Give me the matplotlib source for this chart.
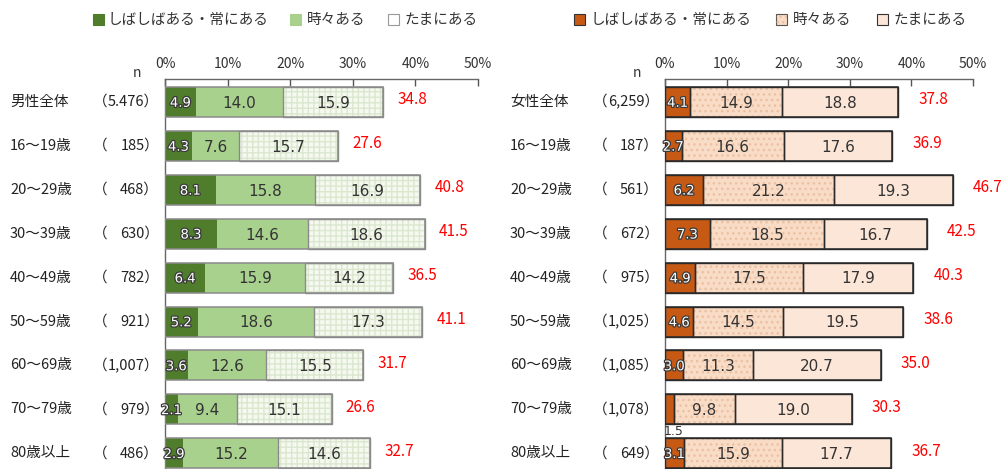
import matplotlib
matplotlib.use("Agg")
import matplotlib.pyplot as plt
from matplotlib.patches import Rectangle
import matplotlib.patheffects as pe

plt.rcParams['font.family'] = ['Noto Sans CJK JP', 'DejaVu Sans']

categories_m = ["男性全体", "16～19歳", "20～29歳", "30～39歳", "40～49歳", "50～59歳", "60～69歳", "70～79歳", "80歳以上"]
n_m = ["5.476", "185", "468", "630", "782", "921", "1,007", "979", "486"]
often_m = [4.9, 4.3, 8.1, 8.3, 6.4, 5.2, 3.6, 2.1, 2.9]
some_m = [14.0, 7.6, 15.8, 14.6, 15.9, 18.6, 12.6, 9.4, 15.2]
rare_m = [15.9, 15.7, 16.9, 18.6, 14.2, 17.3, 15.5, 15.1, 14.6]
total_m = [34.8, 27.6, 40.8, 41.5, 36.5, 41.1, 31.7, 26.6, 32.7]

categories_f = ["女性全体", "16～19歳", "20～29歳", "30～39歳", "40～49歳", "50～59歳", "60～69歳", "70～79歳", "80歳以上"]
n_f = ["6,259", "187", "561", "672", "975", "1,025", "1,085", "1,078", "649"]
often_f = [4.1, 2.7, 6.2, 7.3, 4.9, 4.6, 3.0, 1.5, 3.1]
some_f = [14.9, 16.6, 21.2, 18.5, 17.5, 14.5, 11.3, 9.8, 15.9]
rare_f = [18.8, 17.6, 19.3, 16.7, 17.9, 19.5, 20.7, 19.0, 17.7]
total_f = [37.8, 36.9, 46.7, 42.5, 40.3, 38.6, 35.0, 30.3, 36.7]

legend_labels = ["しばしばある・常にある", "時々ある", "たまにある"]
xticks = [0, 10, 20, 30, 40, 50]

W, H = 1003, 469
fig = plt.figure(figsize=(W / 100, H / 100), dpi=100)
fig.patch.set_facecolor("white")

def fx(px):
    return px / W

def fy(py):
    return 1 - py / H

row0, step = 102, 43.9
top_px, bot_px = 79, 469
ylim_top = (top_px - row0) / step
ylim_bot = (bot_px - row0) / step
bar_h = 30 / step

def make_axes(x0, x1):
    ax = fig.add_axes([fx(x0), 0, fx(x1) - fx(x0), fy(top_px)])
    ax.set_xlim(0, 50)
    ax.set_ylim(ylim_bot, ylim_top)
    ax.xaxis.tick_top()
    ax.set_xticks(xticks)
    ax.set_xticklabels([f"{t}%" for t in xticks], fontsize=10, color="#333333")
    ax.tick_params(axis="x", direction="in", length=5, width=1, color="#555555", pad=6)
    ax.set_yticks([])
    for s in ["right", "bottom"]:
        ax.spines[s].set_visible(False)
    for s in ["top", "left"]:
        ax.spines[s].set_color("#666666")
        ax.spines[s].set_linewidth(1)
    ax.patch.set_alpha(0)
    return ax

def draw_panel(ax, often, some, rare, total, cols, hatch_cols, hatches, edge, seg_edges, tot_off, small_below=None):
    ys = list(range(len(often)))
    left2 = often
    left3 = [a + b for a, b in zip(often, some)]
    segs = [(often, [0] * len(often)), (some, left2), (rare, left3)]
    for k, (w, l) in enumerate(segs):
        ax.barh(ys, w, left=l, height=bar_h, color=cols[k], linewidth=0, zorder=2)
        if hatches[k]:
            ax.barh(ys, w, left=l, height=bar_h, color="none", edgecolor=hatch_cols[k],
                    hatch=hatches[k], linewidth=0, zorder=3)
        if seg_edges[k]:
            ax.barh(ys, w, left=l, height=bar_h, fill=False, edgecolor=edge, linewidth=1, zorder=4)
    tot = [a + b + c for a, b, c in zip(often, some, rare)]
    ax.barh(ys, tot, left=0, height=bar_h, fill=False, edgecolor=edge, linewidth=1.1, zorder=5)
    for i in ys:
        if small_below is not None and i == small_below:
            ax.text(often[i] / 2 + 0.7, i + 0.5, f"{often[i]:.1f}", ha="center", va="center",
                    fontsize=9, color="#333333", family="DejaVu Sans", zorder=8, clip_on=False)
        else:
            ax.text(often[i] / 2, i + 0.03, f"{often[i]:.1f}", ha="center", va="center",
                    fontsize=9.5, color="white", family="DejaVu Sans", zorder=6,
                    path_effects=[pe.withStroke(linewidth=1.8, foreground="#3a3a3a")])
        ax.text(left2[i] + some[i] / 2, i + 0.03, f"{some[i]:.1f}", ha="center", va="center",
                fontsize=11, color="#333333", family="DejaVu Sans", zorder=6)
        ax.text(left3[i] + rare[i] / 2, i + 0.03, f"{rare[i]:.1f}", ha="center", va="center",
                fontsize=11, color="#333333", family="DejaVu Sans", zorder=6)
        ax.text(tot[i] + tot_off, i - 0.05, f"{total[i]:.1f}", ha="left", va="center",
                fontsize=11, color="#ff0000", zorder=6, clip_on=False)

# Left panel (men)
axL = make_axes(165, 478)
draw_panel(axL, often_m, some_m, rare_m, total_m,
           cols=["#4f7d2c", "#a9d18e", "#f5f9f0"],
           hatch_cols=[None, None, "#dbe7cf"],
           hatches=[None, None, "+++"],
           edge="#8a8a8a", seg_edges=[False, False, True], tot_off=2.3)

# Right panel (women)
axR = make_axes(665, 973)
draw_panel(axR, often_f, some_f, rare_f, total_f,
           cols=["#c65a14", "#f9dcc6", "#fce6d8"],
           hatch_cols=[None, "#ebc0a3", None],
           hatches=[None, "...", None],
           edge="#2a2a2a", seg_edges=[True, True, True], tot_off=3.3, small_below=7)

# Category and n labels
for i in range(len(categories_m)):
    y = fy(row0 + step * i)
    fig.text(fx(10), y, categories_m[i], ha="left", va="center", fontsize=10.5, color="#222222")
    fig.text(fx(93), y, "（", ha="left", va="center", fontsize=10.5, color="#222222")
    fig.text(fx(159), y, n_m[i] + "）", ha="right", va="center", fontsize=10.5, color="#222222")
    fig.text(fx(510), y, categories_f[i], ha="left", va="center", fontsize=10.5, color="#222222")
    fig.text(fx(593), y, "（", ha="left", va="center", fontsize=10.5, color="#222222")
    fig.text(fx(659), y, n_f[i] + "）", ha="right", va="center", fontsize=10.5, color="#222222")

fig.text(fx(137), fy(73), "n", ha="center", va="center", fontsize=10, color="#333333")
fig.text(fx(637), fy(73), "n", ha="center", va="center", fontsize=10, color="#333333")

# Legends
def legend(items):
    for (sx, tx, fc, ec, hatch, hc), lab in zip(items, legend_labels):
        r = Rectangle((fx(sx), fy(25)), 11 / W, 11 / H, transform=fig.transFigure,
                      facecolor=fc, edgecolor=ec, linewidth=0.8)
        fig.add_artist(r)
        if hatch:
            fig.add_artist(Rectangle((fx(sx), fy(25)), 11 / W, 11 / H, transform=fig.transFigure,
                                     facecolor="none", edgecolor=hc, hatch=hatch, linewidth=0))
        fig.text(fx(tx), fy(20), lab, ha="left", va="center", fontsize=10.5, color="#333333")

legend([(93, 108, "#4f7d2c", "#4f7d2c", None, None),
        (290, 307, "#a9d18e", "#a9d18e", None, None),
        (388, 405, "#ffffff", "#999999", None, None)])
legend([(574, 591, "#c65a14", "#333333", None, None),
        (776, 793, "#f9dcc6", "#555555", "...", "#ebc0a3"),
        (877, 894, "#fce6d8", "#333333", None, None)])

fig.savefig("out.png", dpi=100, facecolor="white")
